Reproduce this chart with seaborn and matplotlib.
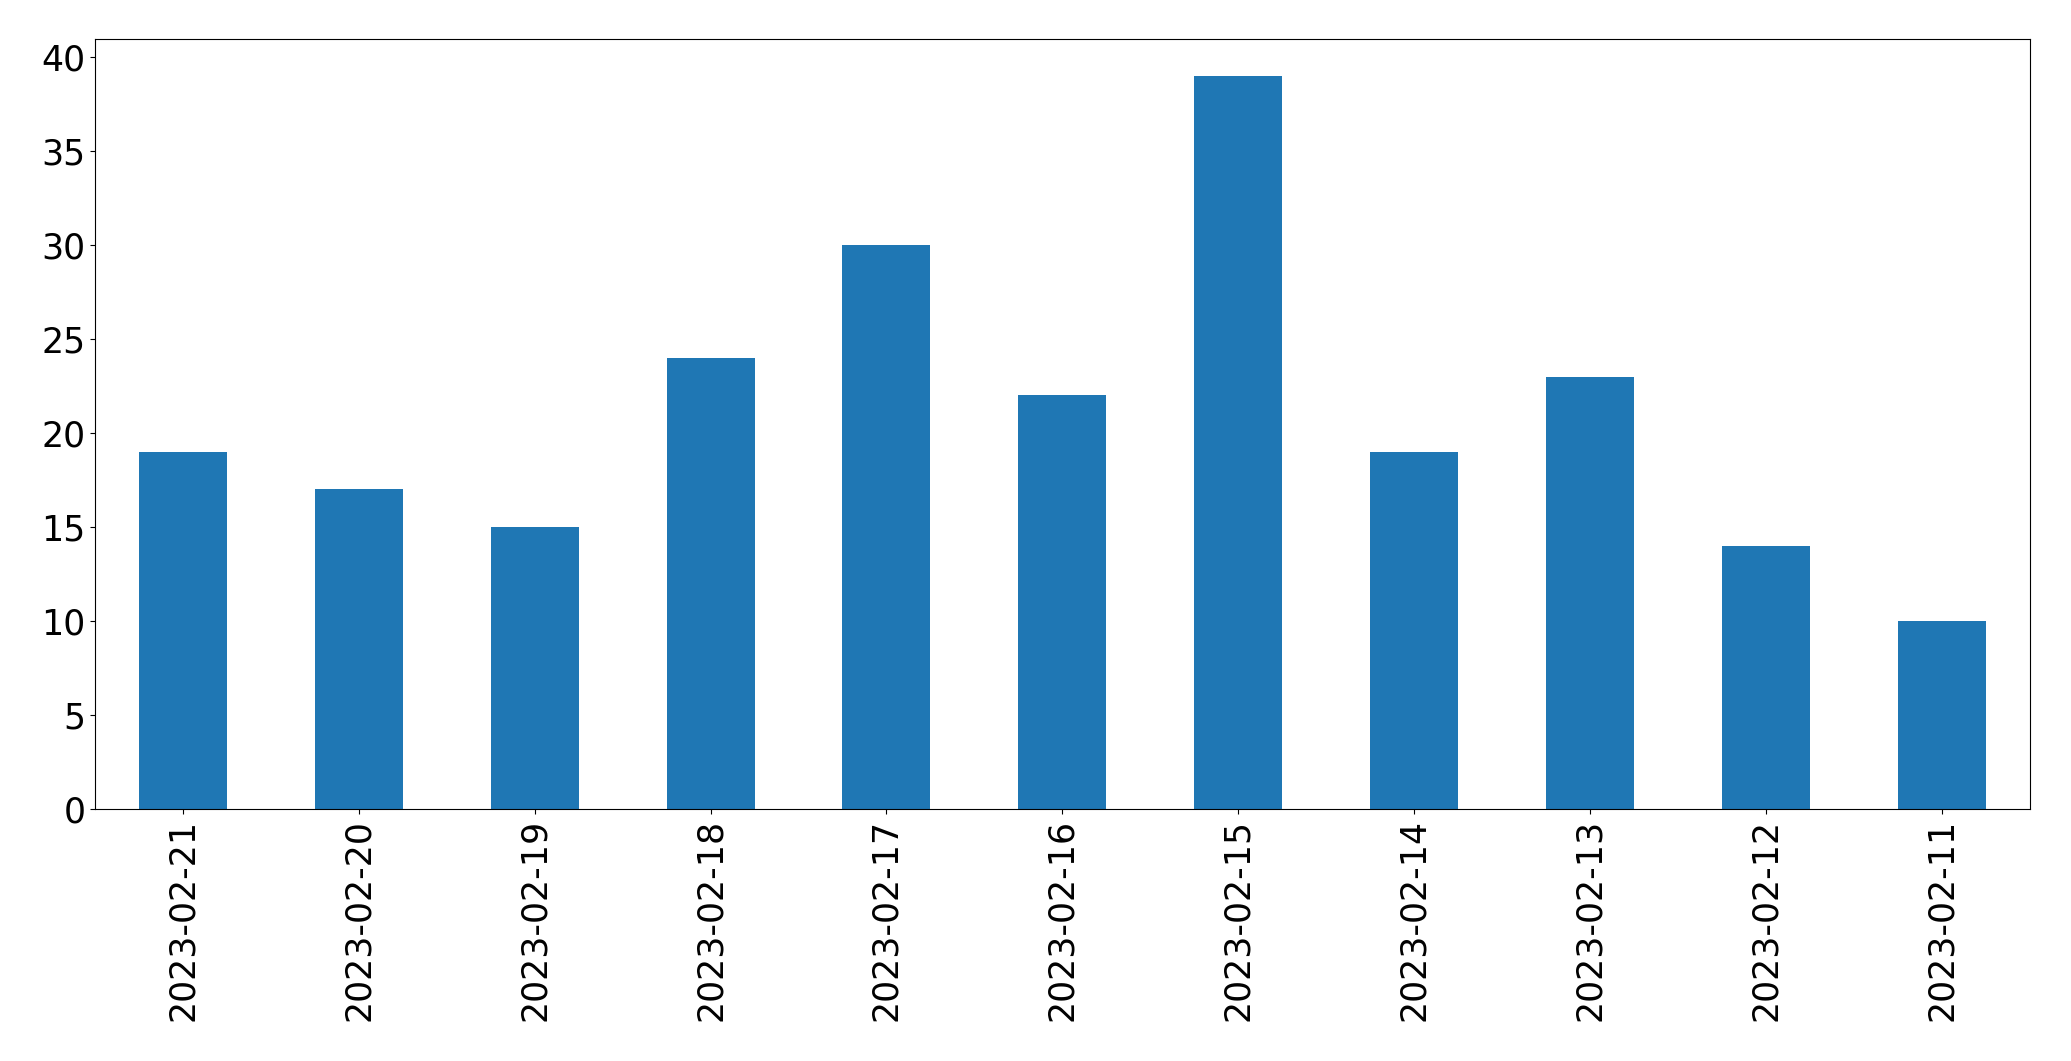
import matplotlib
matplotlib.use("Agg")
import matplotlib.pyplot as plt
import seaborn as sns
import pandas as pd

# Daily counts, newest first (as in the reference)
dates = ["2023-02-21", "2023-02-20", "2023-02-19", "2023-02-18", "2023-02-17",
         "2023-02-16", "2023-02-15", "2023-02-14", "2023-02-13", "2023-02-12",
         "2023-02-11"]
counts = [19, 17, 15, 24, 30, 22, 39, 19, 23, 14, 10]

df = pd.DataFrame({"date": dates, "count": counts})

fig, ax = plt.subplots(figsize=(20.71, 10.61), dpi=100)
fig.subplots_adjust(left=0.0459, right=0.980, top=0.963, bottom=0.2375)

sns.barplot(data=df, x="date", y="count", order=dates, color="#1f77b4",
            saturation=1, width=0.5, ax=ax)

ax.set_xlim(-0.5, len(dates) - 0.5)
ax.set_ylim(0, 40.95)
ax.set_xlabel("")
ax.set_ylabel("")
ax.tick_params(axis="both", labelsize=25)
plt.setp(ax.get_xticklabels(), rotation=90)

fig.savefig("out.png", dpi=100)
